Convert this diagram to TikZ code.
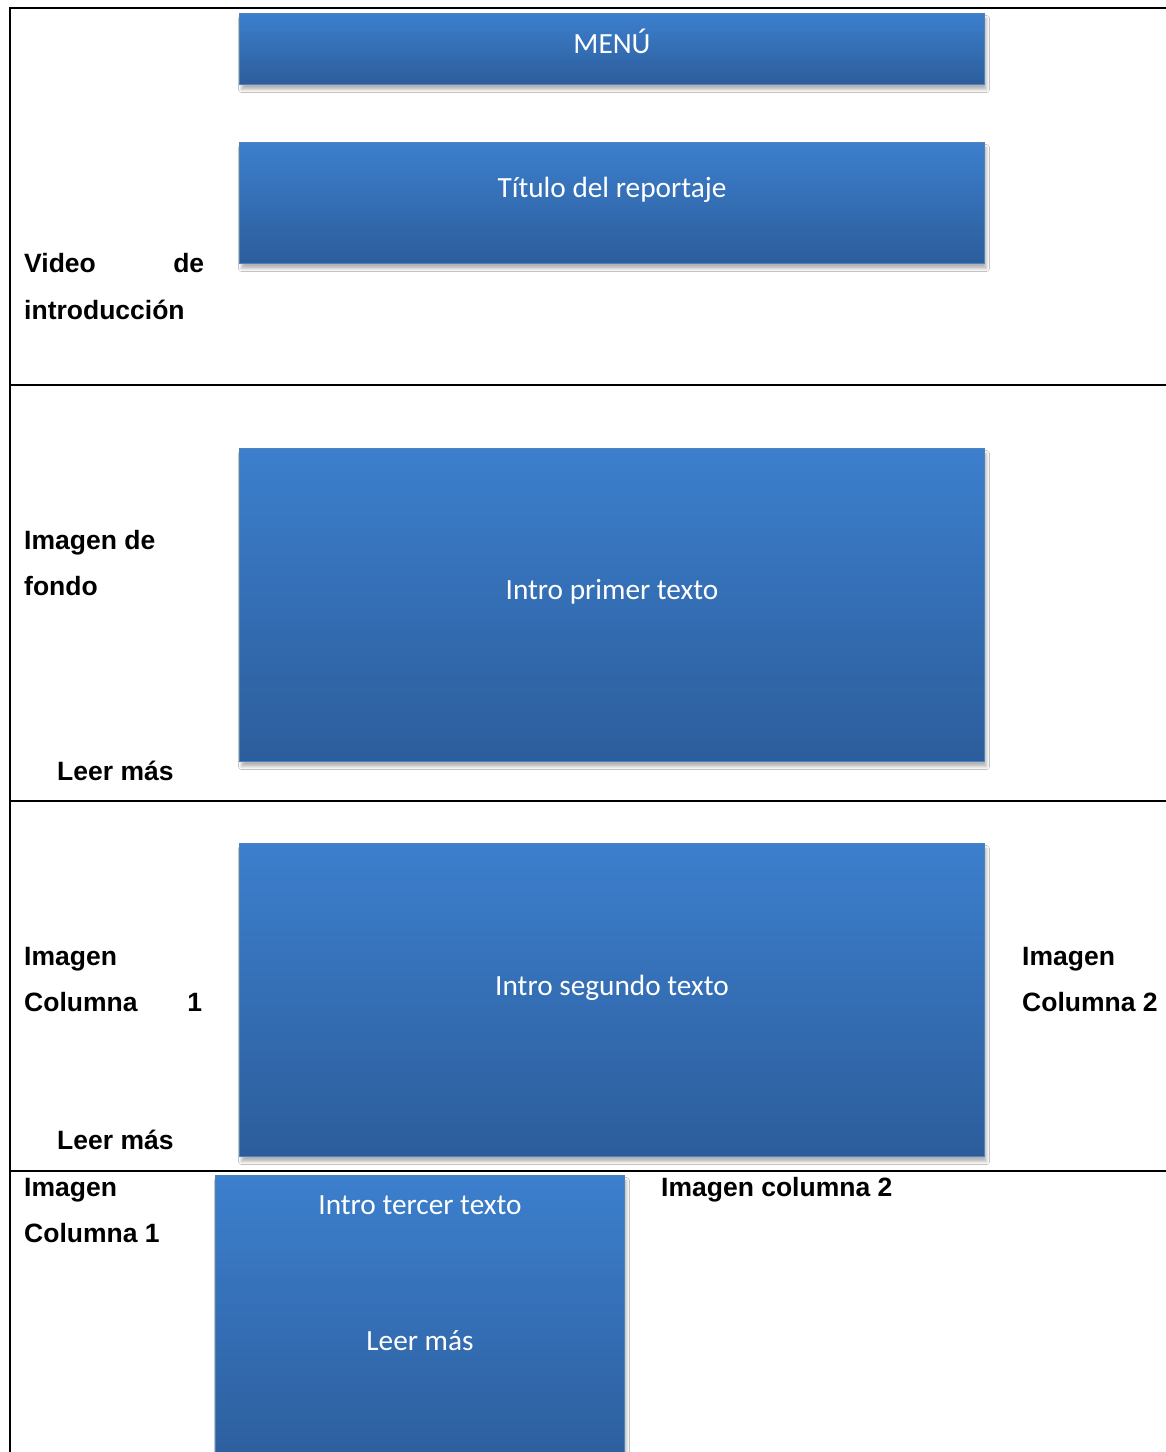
\documentclass[tikz,border=0pt]{standalone}
\usepackage{fontspec}
\setmainfont{Liberation Sans}
\newfontfamily\boxfont{Carlito}
\usetikzlibrary{shadows.blur}

\definecolor{paneltop}{RGB}{60,127,205}
\definecolor{panelbot}{RGB}{44,93,155}
\definecolor{paneledge}{RGB}{79,129,189}

\tikzset{
  panel/.style={draw=paneledge, line width=1pt, top color=paneltop, bottom color=panelbot,
    anchor=north west, inner sep=0pt,
    blur shadow={shadow xshift=2pt, shadow yshift=-5pt, shadow blur radius=3pt, shadow opacity=30}},
  paneltxt/.style={text=white, anchor=base, inner sep=0pt, font=\boxfont\fontsize{29.3}{34}\selectfont},
  lbl/.style={anchor=base west, inner sep=0pt, font=\bfseries\fontsize{26.5}{30}\selectfont},
  rule/.style={line width=2pt, black}
}

\begin{document}
\begin{tikzpicture}[x=1pt, y=-1pt]
\useasboundingbox (0,0) rectangle (1166,1452);
\fill[white] (0,0) rectangle (1166,1452);
\clip (0,0) rectangle (1166,1452);

% table rules
\draw[rule] (10,8) -- (1166,8);
\draw[rule] (10,7) -- (10,1452);
\draw[rule] (10,385) -- (1166,385);
\draw[rule] (10,801) -- (1166,801);
\draw[rule] (10,1171) -- (1166,1171);

% blue panels
\node[panel, minimum width=745pt, minimum height=71pt] (menu) at (239,13) {};
\node[panel, minimum width=745pt, minimum height=121pt] (titulo) at (239,142) {};
\node[panel, minimum width=745pt, minimum height=313pt] (primer) at (239,448) {};
\node[panel, minimum width=745pt, minimum height=313pt] (segundo) at (239,843) {};
\node[panel, minimum width=409pt, minimum height=300pt] (tercer) at (215,1175) {};

% panel captions
\node[paneltxt] (tmenu) at (612,53) {MENÚ};
\node[paneltxt] (ttitulo) at (612,197) {Título del reportaje};
\node[paneltxt] (tprimer) at (612,599) {Intro primer texto};
\node[paneltxt] (tsegundo) at (612,995) {Intro segundo texto};
\node[paneltxt] (ttercer) at (420,1214) {Intro tercer texto};
\node[paneltxt] (tleer) at (420,1350) {Leer más};

% row labels
\node[lbl, text width=180pt] (video) at (24,272) {Video\hfill de};
\node[lbl] (intro) at (24,319) {introducción};

\node[lbl] (fondo1) at (24,549) {Imagen de};
\node[lbl] (fondo2) at (24,595) {fondo};
\node[lbl] (leer1) at (57,780) {Leer más};

\node[lbl] (col1a) at (24,965) {Imagen};
\node[lbl, text width=178pt] (col1b) at (24,1011) {Columna\hfill 1};
\node[lbl] (col2a) at (1022,965) {Imagen};
\node[lbl] (col2b) at (1022,1011) {Columna 2};
\node[lbl] (leer2) at (57,1149) {Leer más};

\node[lbl] (col3a) at (24,1196) {Imagen};
\node[lbl] (col3b) at (24,1242) {Columna 1};
\node[lbl] (col4) at (661,1196) {Imagen columna 2};
\end{tikzpicture}
\end{document}
